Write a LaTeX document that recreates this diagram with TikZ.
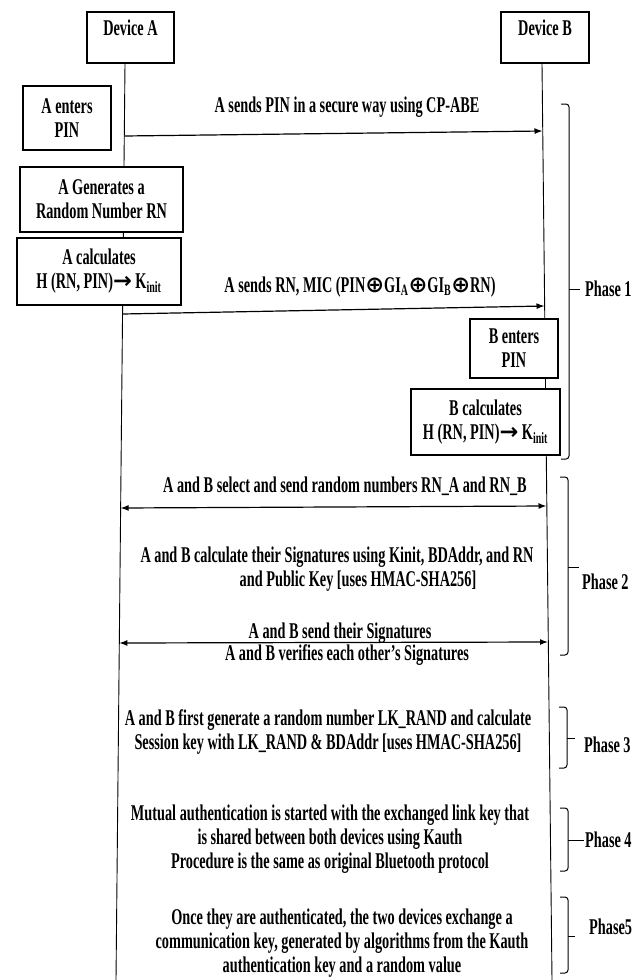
\documentclass[tikz,border=0pt]{standalone}
\usepackage{fontspec}
\setmainfont[FakeStretch=0.635]{Liberation Serif}
\newfontfamily\dvsym{DejaVu Sans}
\usetikzlibrary{arrows.meta,positioning}

\begin{document}
\begin{tikzpicture}[x=1pt,y=-1pt,
  font=\fontsize{22.5}{24}\selectfont\bfseries,
  dev/.style={draw,line width=1.1pt,minimum width=87pt,inner xsep=0pt,inner ysep=7pt,text height=16pt,text depth=21pt},
  box/.style={draw,fill=white,line width=1.1pt,align=center,inner sep=0pt},
  msg/.style={align=center,inner sep=0pt},
  life/.style={line width=0.9pt},
  oneway/.style={-{Latex[length=8pt,width=6pt]},line width=1.2pt},
  twoway/.style={{Latex[length=8pt,width=6pt]}-{Latex[length=8pt,width=6pt]},line width=1.2pt},
  brace/.style={line width=1pt,rounded corners=3pt}]
 \useasboundingbox (0,0) rectangle (644,980);
 % devices and their lifelines
 \node[dev] (devA) at (130.5,37.5) {Device A};
 \node[dev,minimum width=88pt] (devB) at (545,37.5) {Device B};
 \coordinate (endA) at (116,980);
 \coordinate (endB) at (552,980);
 \draw[life] ([xshift=-5.5pt]devA.south) -- (endA);
 \draw[life] ([xshift=-3pt]devB.south) -- (endB);
 % boxes on the lifelines
 \node[box,minimum width=88pt,minimum height=64pt] (enterA) at (67,118) {A enters\\PIN};
 \node[box,minimum width=163pt,minimum height=65pt] (genA) at (101.5,199.5) {A Generates a\\Random Number RN};
 \node[box,minimum width=164pt,minimum height=67pt] (calcA) at (99,271.5) {A calculates\\H (RN, PIN){\dvsym\bfseries →} K\textsubscript{init}};
 \node[box,minimum width=88pt,minimum height=59pt] (enterB) at (514,348.5) {B enters\\PIN};
 \node[box,minimum width=149pt,minimum height=66pt] (calcB) at (485.5,422) {B calculates\\H (RN, PIN){\dvsym\bfseries →} K\textsubscript{init}};
 % messages
 \coordinate (a1) at (124.3,136); \coordinate (b1) at (542.5,131);
 \coordinate (a2) at (122.5,314); \coordinate (b2) at (544.5,306);
 \coordinate (a3) at (120.6,508); \coordinate (b3) at (546.5,506);
 \coordinate (a4) at (119.3,643); \coordinate (b4) at (548,642);
 \draw[oneway] (a1) -- (b1);
 \draw[oneway] (a2) -- (b2);
 \draw[twoway] (a3) -- (b3);
 \draw[twoway] (a4) -- (b4);
 \node[msg] (m1) at (347,107) {A sends PIN in a secure way using CP-ABE};
 \node[msg] (m2) at (360,287) {A sends RN, MIC (PIN{\dvsym ⊕}GI\textsubscript{A}{\dvsym ⊕}GI\textsubscript{B}{\dvsym ⊕}RN)};
 \node[msg] (m3) at (345,486) {A and B select and send random numbers RN\_A and RN\_B};
 \node[msg] (m4) at (337,569) {A and B calculate their Signatures using Kinit, BDAddr, and RN\\\hspace*{42pt}and Public Key [uses HMAC-SHA256]};
 \node[msg] (m5) at (340,633) {A and B send their Signatures};
 \node[msg] (m6) at (347,655) {A and B verifies each other’s Signatures};
 \node[msg] (p3) at (328,732) {A and B first generate a random number LK\_RAND and calculate\\Session key with LK\_RAND \& BDAddr [uses HMAC-SHA256]};
 \node[msg] (p4) at (330,839) {Mutual authentication is started with the exchanged link key that\\is shared between both devices using Kauth\\Procedure is the same as original Bluetooth protocol};
 \node[msg] (p5) at (342,943) {Once they are authenticated, the two devices exchange a\\communication key, generated by algorithms from the Kauth\\authentication key and a random value};
 % phase brackets
 \foreach \v/\t/\b/\m/\e/\lx/\ly/\txt/\n in {569/104/459/289/580/585/289/Phase 1/ph1,
   568/477/655/567/579/582/582/Phase 2/ph2, 567/707/768/738/575/584/745/Phase 3/ph3,
   568/808/871/840/584/585/840/Phase 4/ph4, 568/897/973/936/575/589/927/Phase5/ph5} {
   \node[msg,anchor=west] (\n) at (\lx,\ly) {\txt};
   \draw[brace] (\v-8,\t) -- (\v,\t) -- (\v,\b) -- (\v-8,\b);
   \draw[brace] (\v,\m) -- (\e,\m);
 }
\end{tikzpicture}
\end{document}
